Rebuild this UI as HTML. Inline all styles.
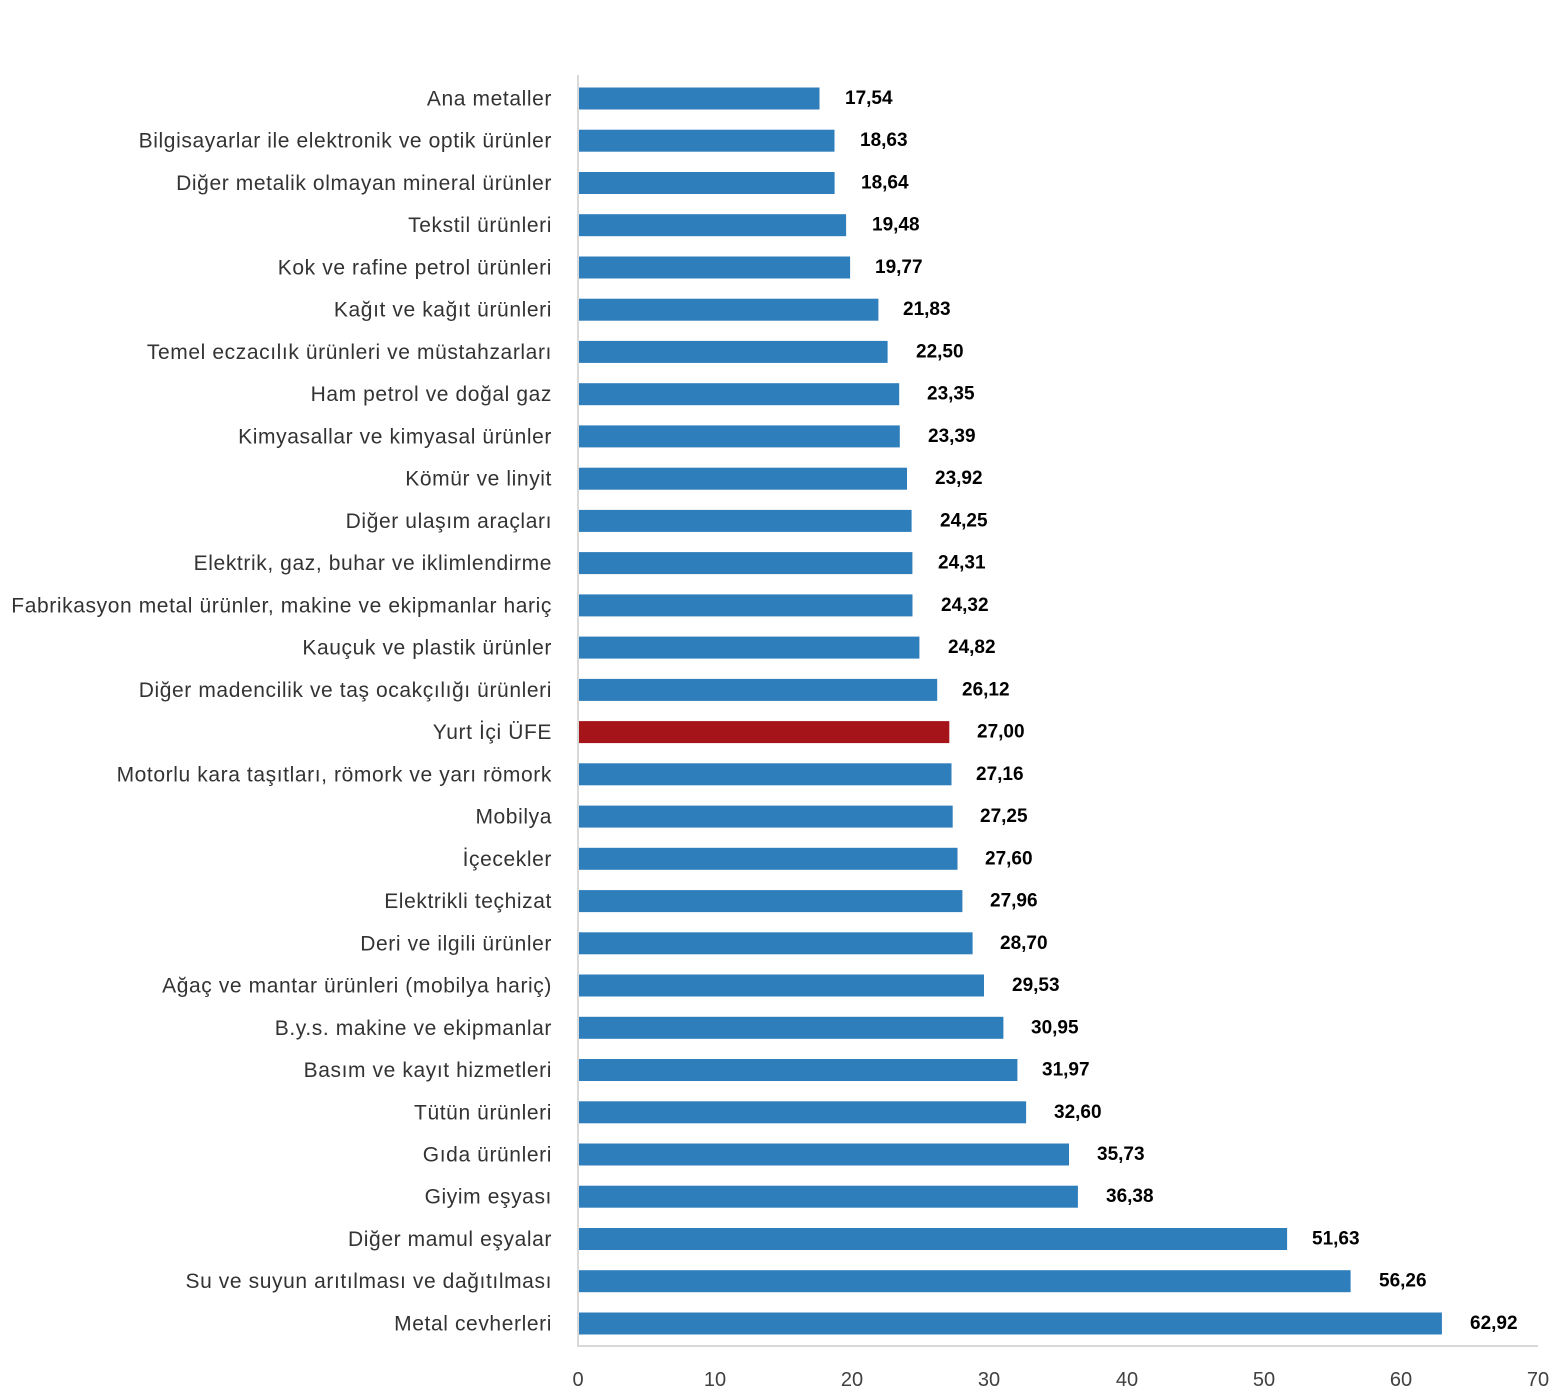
<!DOCTYPE html>
<html><head><meta charset="utf-8"><style>
html,body{margin:0;padding:0;background:#fff}
svg{display:block}
.l{font-family:"Liberation Sans",sans-serif;font-size:21px;letter-spacing:0.6px;fill:#333;text-anchor:end;dominant-baseline:central}
.v{font-family:"Liberation Sans",sans-serif;font-size:19px;font-weight:bold;fill:#000;dominant-baseline:central}
.t{font-family:"Liberation Sans",sans-serif;font-size:20px;fill:#404040;text-anchor:middle}
</style></head><body>
<svg width="1556" height="1400" xmlns="http://www.w3.org/2000/svg">
<line x1="578" y1="75" x2="578" y2="1346" stroke="#d9d9d9" stroke-width="2"/>
<line x1="577" y1="1346" x2="1538" y2="1346" stroke="#d9d9d9" stroke-width="2"/>
<g fill="#2f7ebc">
<rect x="579" y="87.5" width="240.5" height="22"/>
<rect x="579" y="129.7" width="255.5" height="22"/>
<rect x="579" y="172" width="255.6" height="22"/>
<rect x="579" y="214.2" width="267.1" height="22"/>
<rect x="579" y="256.5" width="271.1" height="22"/>
<rect x="579" y="298.7" width="299.4" height="22"/>
<rect x="579" y="340.9" width="308.6" height="22"/>
<rect x="579" y="383.2" width="320.2" height="22"/>
<rect x="579" y="425.4" width="320.8" height="22"/>
<rect x="579" y="467.7" width="328" height="22"/>
<rect x="579" y="509.9" width="332.6" height="22"/>
<rect x="579" y="552.1" width="333.4" height="22"/>
<rect x="579" y="594.4" width="333.5" height="22"/>
<rect x="579" y="636.6" width="340.4" height="22"/>
<rect x="579" y="678.9" width="358.2" height="22"/>
<rect x="579" y="721.1" width="370.3" height="22" fill="#a51419"/>
<rect x="579" y="763.3" width="372.5" height="22"/>
<rect x="579" y="805.6" width="373.7" height="22"/>
<rect x="579" y="847.8" width="378.5" height="22"/>
<rect x="579" y="890.1" width="383.4" height="22"/>
<rect x="579" y="932.3" width="393.6" height="22"/>
<rect x="579" y="974.5" width="405" height="22"/>
<rect x="579" y="1016.8" width="424.4" height="22"/>
<rect x="579" y="1059" width="438.4" height="22"/>
<rect x="579" y="1101.3" width="447.1" height="22"/>
<rect x="579" y="1143.5" width="490" height="22"/>
<rect x="579" y="1185.7" width="498.9" height="22"/>
<rect x="579" y="1228" width="708.1" height="22"/>
<rect x="579" y="1270.2" width="771.6" height="22"/>
<rect x="579" y="1312.5" width="862.9" height="22"/>
</g>
<g>
<text class="l" x="552" y="99">Ana metaller</text>
<text class="l" x="552" y="141.2">Bilgisayarlar ile elektronik ve optik ürünler</text>
<text class="l" x="552" y="183.5">Diğer metalik olmayan mineral ürünler</text>
<text class="l" x="552" y="225.7">Tekstil ürünleri</text>
<text class="l" x="552" y="268">Kok ve rafine petrol ürünleri</text>
<text class="l" x="552" y="310.2">Kağıt ve kağıt ürünleri</text>
<text class="l" x="552" y="352.4">Temel eczacılık ürünleri ve müstahzarları</text>
<text class="l" x="552" y="394.7">Ham petrol ve doğal gaz</text>
<text class="l" x="552" y="436.9">Kimyasallar ve kimyasal ürünler</text>
<text class="l" x="552" y="479.2">Kömür ve linyit</text>
<text class="l" x="552" y="521.4">Diğer ulaşım araçları</text>
<text class="l" x="552" y="563.6">Elektrik, gaz, buhar ve iklimlendirme</text>
<text class="l" x="552" y="605.9">Fabrikasyon metal ürünler, makine ve ekipmanlar hariç</text>
<text class="l" x="552" y="648.1">Kauçuk ve plastik ürünler</text>
<text class="l" x="552" y="690.4">Diğer madencilik ve taş ocakçılığı ürünleri</text>
<text class="l" x="552" y="732.6">Yurt İçi ÜFE</text>
<text class="l" x="552" y="774.8">Motorlu kara taşıtları, römork ve yarı römork</text>
<text class="l" x="552" y="817.1">Mobilya</text>
<text class="l" x="552" y="859.3">İçecekler</text>
<text class="l" x="552" y="901.6">Elektrikli teçhizat</text>
<text class="l" x="552" y="943.8">Deri ve ilgili ürünler</text>
<text class="l" x="552" y="986">Ağaç ve mantar ürünleri (mobilya hariç)</text>
<text class="l" x="552" y="1028.3">B.y.s. makine ve ekipmanlar</text>
<text class="l" x="552" y="1070.5">Basım ve kayıt hizmetleri</text>
<text class="l" x="552" y="1112.8">Tütün ürünleri</text>
<text class="l" x="552" y="1155">Gıda ürünleri</text>
<text class="l" x="552" y="1197.2">Giyim eşyası</text>
<text class="l" x="552" y="1239.5">Diğer mamul eşyalar</text>
<text class="l" x="552" y="1281.7">Su ve suyun arıtılması ve dağıtılması</text>
<text class="l" x="552" y="1324">Metal cevherleri</text>
</g>
<g>
<text class="v" x="845" y="98.5">17,54</text>
<text class="v" x="860" y="140.7">18,63</text>
<text class="v" x="861" y="183">18,64</text>
<text class="v" x="872" y="225.2">19,48</text>
<text class="v" x="875" y="267.5">19,77</text>
<text class="v" x="903" y="309.7">21,83</text>
<text class="v" x="916" y="351.9">22,50</text>
<text class="v" x="927" y="394.2">23,35</text>
<text class="v" x="928" y="436.4">23,39</text>
<text class="v" x="935" y="478.7">23,92</text>
<text class="v" x="940" y="520.9">24,25</text>
<text class="v" x="938" y="563.1">24,31</text>
<text class="v" x="941" y="605.4">24,32</text>
<text class="v" x="948" y="647.6">24,82</text>
<text class="v" x="962" y="689.9">26,12</text>
<text class="v" x="977" y="732.1">27,00</text>
<text class="v" x="976" y="774.3">27,16</text>
<text class="v" x="980" y="816.6">27,25</text>
<text class="v" x="985" y="858.8">27,60</text>
<text class="v" x="990" y="901.1">27,96</text>
<text class="v" x="1000" y="943.3">28,70</text>
<text class="v" x="1012" y="985.5">29,53</text>
<text class="v" x="1031" y="1027.8">30,95</text>
<text class="v" x="1042" y="1070">31,97</text>
<text class="v" x="1054" y="1112.3">32,60</text>
<text class="v" x="1097" y="1154.5">35,73</text>
<text class="v" x="1106" y="1196.7">36,38</text>
<text class="v" x="1312" y="1239">51,63</text>
<text class="v" x="1379" y="1281.2">56,26</text>
<text class="v" x="1470" y="1323.5">62,92</text>
</g>
<g>
<text class="t" x="578" y="1386">0</text>
<text class="t" x="715" y="1386">10</text>
<text class="t" x="852" y="1386">20</text>
<text class="t" x="989" y="1386">30</text>
<text class="t" x="1127" y="1386">40</text>
<text class="t" x="1264" y="1386">50</text>
<text class="t" x="1401" y="1386">60</text>
<text class="t" x="1538" y="1386">70</text>
</g>
</svg>
</body></html>
